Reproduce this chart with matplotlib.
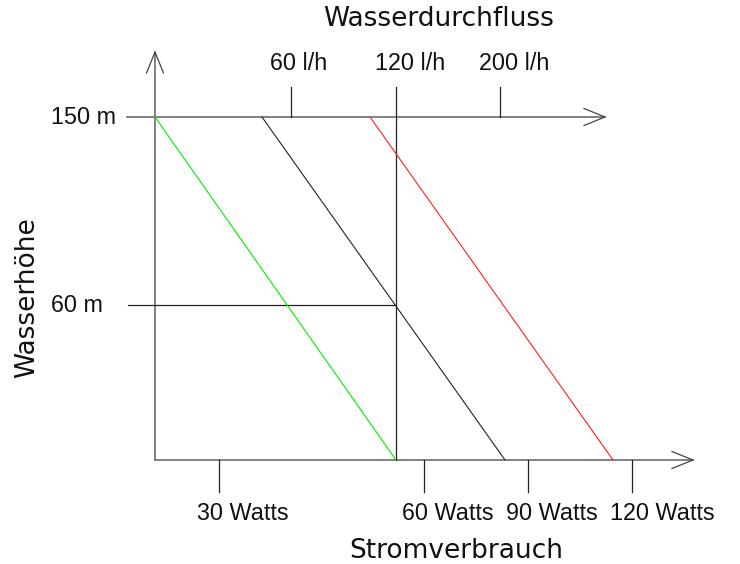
import matplotlib
matplotlib.use('Agg')
import matplotlib.pyplot as plt

# ---------------------------------------------------------------------
# diagram data (schematic units, origin at the lower left corner)

watts_labels = ['30 Watts', '60 Watts', '90 Watts', '120 Watts']
watts_pos = [64, 269, 373, 477]

flow_labels = ['60 l/h', '120 l/h', '200 l/h']
flow_pos = [136, 241, 345]

height_labels = ['150 m', '60 m']
height_pos = [343, 155]

line_top_x = [0, 107, 215]
line_bottom_x = [241, 350, 458]
line_colors = ['#00ee00', '#222222', '#ff2020']

# ---------------------------------------------------------------------

def arrow_head(ax, x, y, direction, length=21, half=8.5, color='#444444'):
    if direction == 'up':
        xs = [x - half, x, x + half]
        ys = [y - length, y, y - length]
    else:
        xs = [x - length, x, x - length]
        ys = [y + half, y, y - half]
    ax.plot(xs, ys, color=color, lw=0.9, solid_joinstyle='miter')


fig = plt.figure(figsize=(7.4, 5.64), dpi=100)
ax = fig.add_axes([0, 0, 1, 1])
ax.set_xlim(-155, 585)
ax.set_ylim(-104, 460)
ax.axis('off')

axis_color = '#777777'
dark = '#222222'
label_font = 'Liberation Sans'
title_font = 'DejaVu Sans'
label_size = 16.8
title_size = 19

top = height_pos[0]

# main axes
ax.plot([0, 0], [0, 408], color=axis_color, lw=1.3)
arrow_head(ax, 0, 408, 'up')
ax.plot([0, 538], [0, 0], color=axis_color, lw=1.3)
arrow_head(ax, 538, 0, 'right')
ax.plot([-28, 450], [top, top], color=axis_color, lw=1.3)
arrow_head(ax, 450, top, 'right')

# height lines
ax.plot([-27, flow_pos[1]], [height_pos[1], height_pos[1]], color=dark, lw=0.9)

# flow ticks
for i, (x, lab) in enumerate(zip(flow_pos, flow_labels)):
    y1 = top + 30
    y0 = 0 if i == 1 else top
    ax.plot([x, x], [y0, y1], color=dark, lw=0.9)
    ax.text(x - 21, top + 54, lab, ha='left', va='center',
            fontsize=label_size, family=label_font, color='#111111')

# watt ticks
for x, lab in zip(watts_pos, watts_labels):
    ax.plot([x, x], [0, -32], color=dark, lw=0.9)
    ax.text(x - 22, -54, lab, ha='left', va='center',
            fontsize=label_size, family=label_font, color='#111111')

# height labels
for y, lab in zip(height_pos, height_labels):
    ax.text(-104, y, lab, ha='left', va='center',
            fontsize=label_size, family=label_font, color='#111111')

# consumption lines
for x0, x1, c in zip(line_top_x, line_bottom_x, line_colors):
    ax.plot([x0, x1], [top, 0], color=c, lw=0.8)

# axis titles
ax.text(284, 441, 'Wasserdurchfluss', ha='center', va='center',
        fontsize=title_size, family=title_font, color='#111111')
ax.text(301, -91, 'Stromverbrauch', ha='center', va='center',
        fontsize=title_size, family=title_font, color='#111111')
ax.text(-128, 162, 'Wasserhöhe', ha='center', va='center', rotation=90,
        fontsize=title_size, family=title_font, color='#111111')

fig.savefig('out.png', dpi=100, facecolor='white')
